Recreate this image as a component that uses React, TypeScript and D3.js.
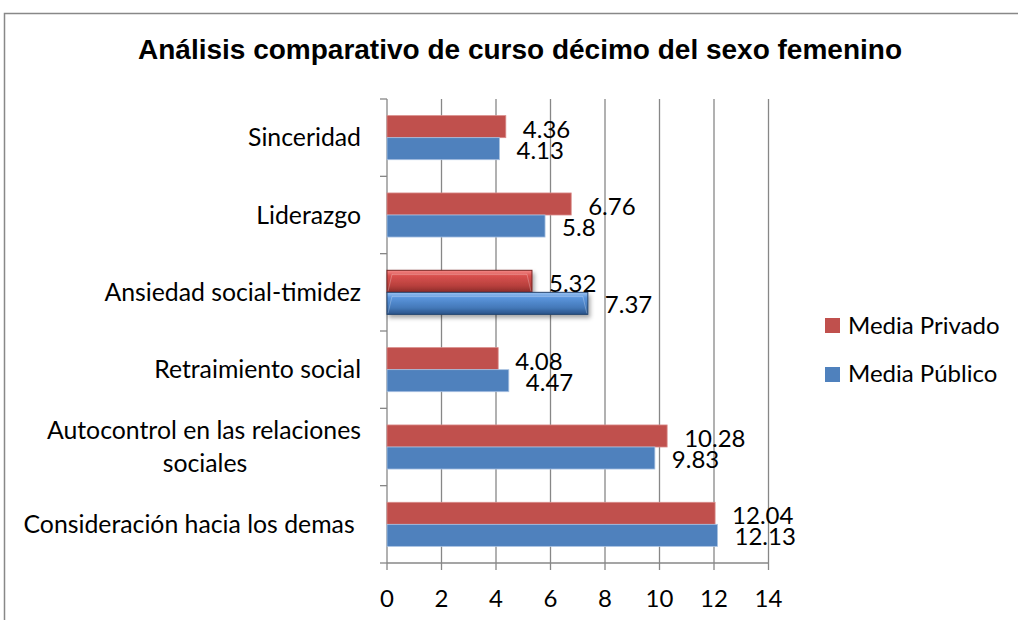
import React from "react";
import * as d3 from "d3";

const categories = [
  "Sinceridad",
  "Liderazgo",
  "Ansiedad social-timidez",
  "Retraimiento social",
  "Autocontrol en las relaciones sociales",
  "Consideración hacia los demas",
];
const categoryLines = [
  ["Sinceridad"],
  ["Liderazgo"],
  ["Ansiedad social-timidez"],
  ["Retraimiento social"],
  ["Autocontrol en las relaciones", "sociales"],
  ["Consideración hacia los demas "],
];
const mediaPrivado = [4.36, 6.76, 5.32, 4.08, 10.28, 12.04];
const mediaPublico = [4.13, 5.8, 7.37, 4.47, 9.83, 12.13];
const privadoLabels = ["4.36", "6.76", "5.32", "4.08", "10.28", "12.04"];
const publicoLabels = ["4.13", "5.8", "7.37", "4.47", "9.83", "12.13"];
const xTicks = [0, 2, 4, 6, 8, 10, 12, 14];
const highlighted = "Ansiedad social-timidez";

const RED = "#C0504D";
const BLUE = "#4F81BD";
const GRID = "#878787";
const FONT = "Lato, 'Open Sans', sans-serif";

export default function App() {
  const x = d3.scaleLinear().domain([0, 14]).range([387, 768.5]);
  const y = d3.scaleBand<string>().domain(categories).range([99, 563]).padding(0);
  const bw = y.bandwidth();
  const barH = bw * 0.285;
  const boundaries = categories.map((c) => y(c)!).concat([563]);

  return (
    <svg
      width={1018}
      height={620}
      style={{ position: "absolute", left: 0, top: 0, background: "#fff" }}
    >
      <defs>
        <linearGradient id="gRed" x1="0" y1="0" x2="0" y2="1">
          <stop offset="0" stopColor="#f58a88" />
          <stop offset="0.25" stopColor="#d9514e" />
          <stop offset="0.7" stopColor="#b8403d" />
          <stop offset="1" stopColor="#8a2a28" />
        </linearGradient>
        <linearGradient id="gBlue" x1="0" y1="0" x2="0" y2="1">
          <stop offset="0" stopColor="#9cc3f2" />
          <stop offset="0.25" stopColor="#5a95dc" />
          <stop offset="0.7" stopColor="#4478b8" />
          <stop offset="1" stopColor="#2a5288" />
        </linearGradient>
        <filter id="shadow" x="-10%" y="-30%" width="120%" height="180%">
          <feDropShadow dx="2" dy="3" stdDeviation="2" floodColor="#000" floodOpacity="0.35" />
        </filter>
      </defs>

      {/* outer frame */}
      <rect x={4.5} y={13.5} width={1100} height={700} fill="none" stroke="#888" strokeWidth={1.5} />

      {/* title */}
      <text
        x={520}
        y={59}
        textAnchor="middle"
        fontFamily="'Liberation Sans', Arial, sans-serif"
        fontWeight="bold"
        fontSize={27.5}
        textLength={764}
        lengthAdjust="spacingAndGlyphs"
        fill="#000"
      >
        Análisis comparativo de curso décimo del sexo femenino
      </text>

      {/* vertical gridlines */}
      {xTicks.map((t) => (
        <line key={"g" + t} x1={x(t)} x2={x(t)} y1={99} y2={563} stroke={GRID} strokeWidth={1.3} />
      ))}
      {/* bottom axis */}
      <line x1={x(0)} x2={x(14)} y1={563} y2={563} stroke={GRID} strokeWidth={1.3} />
      {xTicks.map((t) => (
        <line key={"t" + t} x1={x(t)} x2={x(t)} y1={563} y2={570} stroke={GRID} strokeWidth={1.3} />
      ))}
      {/* left axis ticks */}
      {boundaries.map((b, i) => (
        <line key={"lt" + i} x1={380} x2={387} y1={b} y2={b} stroke={GRID} strokeWidth={1.3} />
      ))}

      {/* bars */}
      {categories.map((c, i) => {
        const cy = y(c)! + bw / 2;
        const special = c === highlighted;
        const yR = cy - barH;
        const yB = cy;
        const wR = x(mediaPrivado[i]) - x(0);
        const wB = x(mediaPublico[i]) - x(0);
        return (
          <g key={c}>
            {special ? (
              <g>
                <rect x={x(0)} y={yR} width={wR} height={barH} fill="url(#gRed)" stroke="#7a2523" strokeWidth={1} filter="url(#shadow)" />
                <rect x={x(0)} y={yB} width={wB} height={barH} fill="url(#gBlue)" stroke="#24456f" strokeWidth={1} filter="url(#shadow)" />
                <path d={`M${x(0) + 1},${yR + barH - 1} L${x(0) + 5},${yR + 4} L${x(0) + wR - 5},${yR + 4} L${x(0) + wR - 1},${yR + barH - 1}`} fill="none" stroke="#ffffff" strokeOpacity={0.25} />
                <path d={`M${x(0) + 1},${yB + barH - 1} L${x(0) + 5},${yB + 4} L${x(0) + wB - 5},${yB + 4} L${x(0) + wB - 1},${yB + barH - 1}`} fill="none" stroke="#ffffff" strokeOpacity={0.25} />
              </g>
            ) : (
              <g>
                <rect x={x(0)} y={yR} width={wR} height={barH} fill={RED} stroke="#d98b89" strokeWidth={0.8} />
                <rect x={x(0)} y={yB} width={wB} height={barH} fill={BLUE} stroke="#a9c2e2" strokeWidth={0.8} />
              </g>
            )}
            <text x={x(mediaPrivado[i]) + 17} y={yR + barH / 2 + 2.5} dy="0.35em" fontFamily={FONT} fontSize={24} fill="#000">
              {privadoLabels[i]}
            </text>
            <text x={x(mediaPublico[i]) + 17} y={yB + barH / 2 + 1.5} dy="0.35em" fontFamily={FONT} fontSize={24} fill="#000">
              {publicoLabels[i]}
            </text>
          </g>
        );
      })}

      {/* category labels */}
      {categories.map((c, i) => {
        const cy = y(c)! + bw / 2;
        const lines = categoryLines[i];
        const lh = 33;
        const start = cy - ((lines.length - 1) * lh) / 2;
        return (
          <g key={"cl" + c}>
            {lines.map((l, j) => (
              <text
                key={j}
                x={lines.length > 1 && j === 1 ? 205 : 361}
                y={start + j * lh}
                dy="0.35em"
                textAnchor={lines.length > 1 && j === 1 ? "middle" : "end"}
                fontFamily={FONT}
                fontSize={24.8}
                fill="#000"
                style={{ whiteSpace: "pre" }}
              >
                {l}
              </text>
            ))}
          </g>
        );
      })}

      {/* x tick labels */}
      {xTicks.map((t) => (
        <text key={"xl" + t} x={x(t)} y={599} dy="0.35em" textAnchor="middle" fontFamily={FONT} fontSize={24} fill="#000">
          {t}
        </text>
      ))}

      {/* legend */}
      <rect x={825} y={318} width={15} height={15} fill={RED} />
      <text x={848} y={326} dy="0.35em" fontFamily={FONT} fontSize={24} fill="#000">Media Privado</text>
      <rect x={825} y={367} width={15} height={15} fill={BLUE} />
      <text x={848} y={374} dy="0.35em" fontFamily={FONT} fontSize={24} fill="#000">Media Público</text>
    </svg>
  );
}
